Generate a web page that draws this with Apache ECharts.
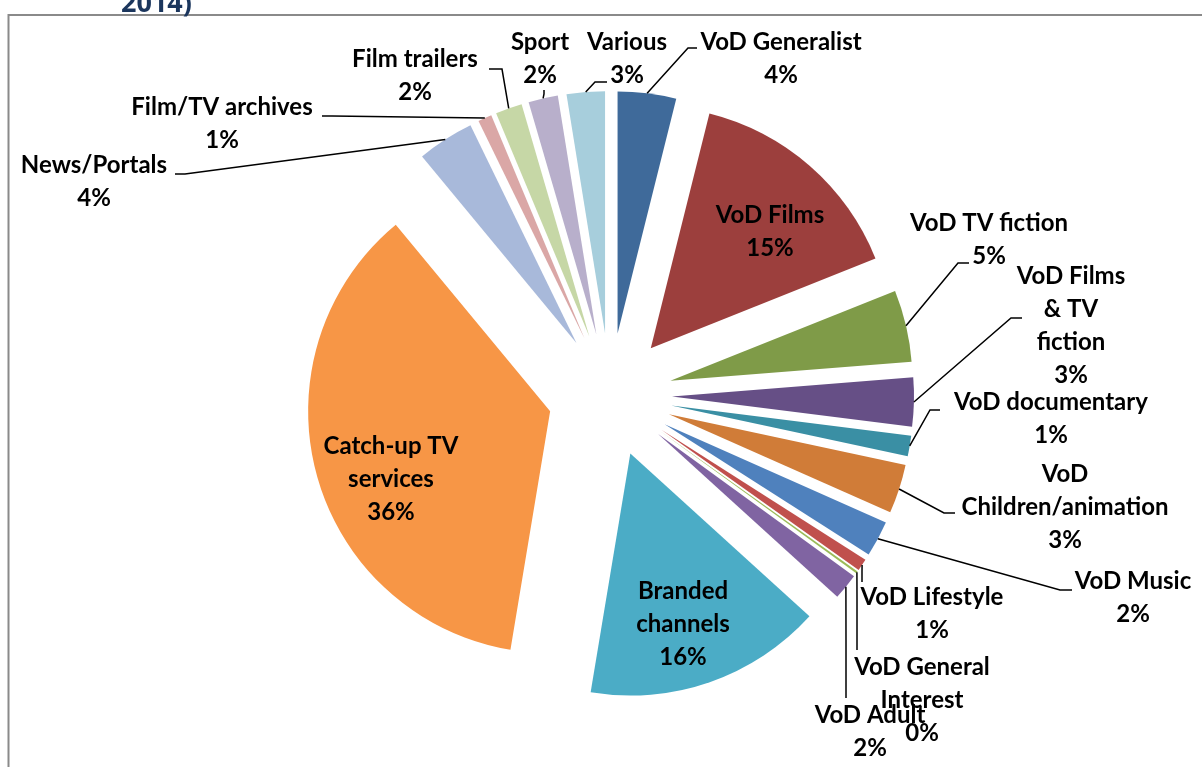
<!DOCTYPE html>
<html>
<head>
<meta charset="utf-8">
<script src="https://cdn.jsdelivr.net/npm/echarts@6/dist/echarts.min.js"></script>
<style>
  html, body { margin: 0; padding: 0; background: #fff; }
  #chart { width: 1202px; height: 767px; }
</style>
</head>
<body>
<div id="chart"></div>
<script>
// slices, clockwise from 12 o'clock
const categories = ['VoD Generalist', 'VoD Films', 'VoD TV fiction', 'VoD Films & TV fiction',
  'VoD documentary', 'VoD Children/animation', 'VoD Music', 'VoD Lifestyle',
  'VoD General Interest', 'VoD Adult', 'Branded channels', 'Catch-up TV services',
  'News/Portals', 'Film/TV archives', 'Film trailers', 'Sport', 'Various'];
const shares = [3.9, 15.06, 4.8, 3.26, 1.37, 3.28, 2.4, 0.8, 0.15, 1.75,
  15.9, 36.4, 3.8, 0.92, 1.78, 1.97, 2.55];
const colors = ['#3F6A9A', '#9C3F3D', '#7F9B48', '#664F86', '#3A8FA4', '#D07C38',
  '#4F81BD', '#C0504D', '#9BBB59', '#8064A2', '#4BACC6', '#F79646',
  '#A8B9DA', '#DAA7A6', '#C6D7A6', '#B8AFCB', '#A7CEDC'];
const insideLabels = ['VoD Films', 'Branded channels', 'Catch-up TV services'];
// how Excel wrapped the longer names
const wrapped = {
  'VoD Films & TV fiction': 'VoD Films\n& TV\nfiction',
  'VoD Children/animation': 'VoD\nChildren/animation',
  'VoD General Interest': 'VoD General\nInterest',
  'Branded channels': 'Branded\nchannels',
  'Catch-up TV services': 'Catch-up TV\nservices'
};

// label block centres
const labelSpots = [[781, 59], [770, 232], [989, 240], [1071, 326], [1051, 419],
  [1065, 507], [1133, 598], [932, 614], [922, 700], [870, 732], [683, 624],
  [391, 479], [94, 182], [222, 124], [415, 76], [540, 59], [627, 59]];
// where each leader line bends and where it meets its label (null = inside label)
const leaderEnds = [
  [[688, 48], [697, 48]], null, [[958, 263], [969, 263]], [[1011, 318], [1022, 318]],
  [[930, 410], [940, 410]], [[944, 513], [955, 513]], [[1060, 590], [1072, 590]],
  [[862, 572], [862, 582]], [[857, 600], [857, 650]], [[846, 640], [846, 698]],
  null, null, [[185, 174], [175, 174]], [[332, 116], [322, 116]],
  [[502, 69], [489, 69]], [[544, 94], [544, 90]], [[595, 82], [607, 82]]
];

const CENTER = [610, 395];
const RADIUS = 242;
const EXPLODE = 62;

const chart = echarts.init(document.getElementById('chart'));

chart.setOption({
  backgroundColor: '#fff',
  animation: false,
  graphic: [
    {
      type: 'rect',
      shape: { x: 8.5, y: 15, width: 1400, height: 900 },
      style: { fill: 'none', stroke: '#8a8a8a', lineWidth: 2 },
      silent: true
    },
    {
      type: 'text',
      left: 121,
      top: -9,
      style: { text: '2014)', font: 'bold 27px "Open Sans"', fill: '#1B365D' },
      silent: true
    }
  ],
  series: [
    {
      // exploded slices
      type: 'pie',
      center: CENTER,
      radius: RADIUS,
      startAngle: 90,
      clockwise: true,
      selectedMode: 'multiple',
      selectedOffset: EXPLODE,
      silent: true,
      label: { show: false },
      labelLine: { show: false },
      data: categories.map(function (name, i) {
        return {
          name: name,
          value: shares[i],
          selected: true,
          itemStyle: { color: colors[i] },
          select: { itemStyle: { color: colors[i] } }
        };
      })
    },
    {
      // invisible outline at exploded reach, carries the data labels and leader lines
      type: 'pie',
      center: CENTER,
      radius: RADIUS + EXPLODE,
      startAngle: 90,
      clockwise: true,
      silent: true,
      z: 3,
      avoidLabelOverlap: false,
      itemStyle: { color: 'rgba(0,0,0,0)' },
      label: {
        position: 'outside',
        color: '#000',
        fontFamily: 'Lato',
        fontWeight: 'bold',
        fontSize: 24,
        lineHeight: 33,
        align: 'center',
        formatter: function (p) {
          return (wrapped[p.name] || p.name) + '\n' + Math.round(p.percent) + '%';
        }
      },
      labelLine: {
        show: true,
        length: 10,
        length2: 8,
        lineStyle: { color: '#000', width: 1.5 }
      },
      labelLayout: function (params) {
        const s = labelSpots[params.dataIndex];
        const out = { x: s[0], y: s[1], align: 'center', verticalAlign: 'middle' };
        const ends = leaderEnds[params.dataIndex];
        if (ends && params.labelLinePoints) {
          // start where the library puts it on the slice's outer arc
          out.labelLinePoints = [params.labelLinePoints[0], ends[0], ends[1]];
        }
        return out;
      },
      data: categories.map(function (name, i) {
        const inside = insideLabels.indexOf(name) >= 0;
        return {
          name: name,
          value: shares[i],
          labelLine: inside ? { show: false } : {}
        };
      })
    }
  ]
});
</script>
</body>
</html>
